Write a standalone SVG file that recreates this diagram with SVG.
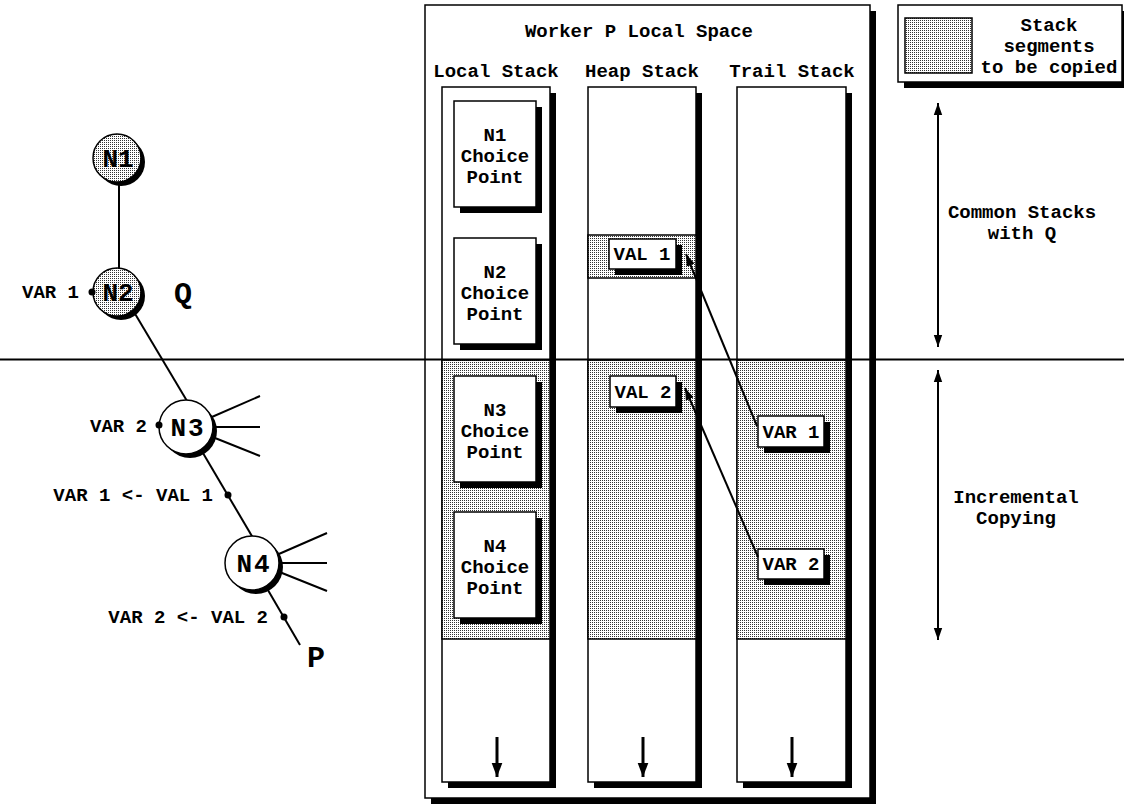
<svg xmlns="http://www.w3.org/2000/svg" width="1124" height="806" viewBox="0 0 1124 806">
<defs>
<pattern id="stip" width="2" height="2" patternUnits="userSpaceOnUse"><rect width="2" height="2" fill="#fff"/><rect width="1" height="1" fill="#333"/></pattern>
<marker id="ah" viewBox="0 0 10 10" refX="10" refY="5" markerWidth="12" markerHeight="12" markerUnits="userSpaceOnUse" orient="auto-start-reverse"><path d="M0,1.5 L10,5 L0,8.5 z" fill="#000"/></marker>
<marker id="ahb" viewBox="0 0 10 10" refX="10" refY="5" markerWidth="14" markerHeight="14" markerUnits="userSpaceOnUse" orient="auto"><path d="M0,1.2 L10,5 L0,8.8 z" fill="#000"/></marker>
<style>
.t{font-family:"Liberation Mono","Courier New",monospace;font-weight:bold;font-size:19px;text-anchor:middle;fill:#000}
.r{text-anchor:end}
.nl{font-size:26px}
.big{font-size:30px}
.box{fill:#fff;stroke:#000;stroke-width:1.5}
.shd{fill:#000}
.stp{fill:url(#stip);stroke:#000;stroke-width:1.5}
.ln{stroke:#000;stroke-width:2;fill:none}
.arr{stroke:#000;stroke-width:2;fill:none;marker-end:url(#ah)}
.arrb{stroke:#000;stroke-width:3;fill:none;marker-end:url(#ahb)}
.arr2{stroke:#000;stroke-width:2;fill:none;marker-end:url(#ah);marker-start:url(#ah)}
</style>
</defs>
<rect width="1124" height="806" fill="#fff"/>

<g id="worker-space">
<rect class="shd" x="431" y="11" width="445" height="793"/>
<rect class="box" x="425" y="5" width="445" height="793"/>
<text class="t" x="639" y="37">Worker P Local Space</text>
<text class="t" x="496" y="77">Local Stack</text>
<text class="t" x="642" y="77">Heap Stack</text>
<text class="t" x="792" y="77">Trail Stack</text>
</g>

<g id="legend">
<rect class="shd" x="904" y="11" width="224" height="77"/>
<rect class="box" x="898" y="5" width="224" height="77"/>
<rect class="stp" x="905" y="18" width="67" height="55"/>
<text class="t" x="1049" y="31">Stack</text>
<text class="t" x="1049" y="52">segments</text>
<text class="t" x="1049" y="73">to be copied</text>
</g>

<g id="local-stack">
<rect class="shd" x="448" y="93" width="108" height="695"/>
<rect class="box" x="442" y="87" width="108" height="695"/>
<rect class="stp" x="442" y="360" width="108" height="279"/>
</g>
<g id="heap-stack">
<rect class="shd" x="594" y="93" width="108" height="695"/>
<rect class="box" x="588" y="87" width="108" height="695"/>
<rect class="stp" x="588" y="235" width="108" height="43"/>
<rect class="stp" x="588" y="360" width="108" height="279"/>
</g>
<g id="trail-stack">
<rect class="shd" x="743" y="93" width="109" height="695"/>
<rect class="box" x="737" y="87" width="109" height="695"/>
<rect class="stp" x="737" y="360" width="109" height="279"/>
</g>

<g id="cp-n1">
<rect class="shd" x="460" y="107" width="82" height="106"/>
<rect class="box" x="454" y="101" width="82" height="106"/>
<text class="t" x="495" y="141">N1</text><text class="t" x="495" y="162">Choice</text><text class="t" x="495" y="183">Point</text>
</g>
<g id="cp-n2">
<rect class="shd" x="460" y="244" width="82" height="106"/>
<rect class="box" x="454" y="238" width="82" height="106"/>
<text class="t" x="495" y="278">N2</text><text class="t" x="495" y="299">Choice</text><text class="t" x="495" y="320">Point</text>
</g>
<g id="cp-n3">
<rect class="shd" x="460" y="382" width="82" height="106"/>
<rect class="box" x="454" y="376" width="82" height="106"/>
<text class="t" x="495" y="416">N3</text><text class="t" x="495" y="437">Choice</text><text class="t" x="495" y="458">Point</text>
</g>
<g id="cp-n4">
<rect class="shd" x="460" y="518" width="82" height="106"/>
<rect class="box" x="454" y="512" width="82" height="106"/>
<text class="t" x="495" y="552">N4</text><text class="t" x="495" y="573">Choice</text><text class="t" x="495" y="594">Point</text>
</g>

<g id="val1">
<rect class="shd" x="615" y="245" width="67" height="30"/>
<rect class="box" x="609" y="239" width="67" height="30"/>
<text class="t" x="642" y="260">VAL 1</text>
</g>
<g id="val2">
<rect class="shd" x="616" y="382" width="66" height="31"/>
<rect class="box" x="610" y="376" width="66" height="31"/>
<text class="t" x="643" y="398">VAL 2</text>
</g>
<g id="var1">
<rect class="shd" x="764" y="422" width="66" height="31"/>
<rect class="box" x="758" y="416" width="66" height="31"/>
<text class="t" x="791" y="438">VAR 1</text>
</g>
<g id="var2">
<rect class="shd" x="764" y="555" width="66" height="30"/>
<rect class="box" x="758" y="549" width="66" height="30"/>
<text class="t" x="791" y="570">VAR 2</text>
</g>

<g id="annotations">
<text class="t" x="1022" y="218">Common Stacks</text>
<text class="t" x="1022" y="239">with Q</text>
<text class="t" x="1016" y="503">Incremental</text>
<text class="t" x="1016" y="524">Copying</text>
</g>

<g id="tree-lines">
<line class="ln" x1="119" y1="180" x2="119" y2="270"/>
<line class="ln" x1="128" y1="302" x2="190" y2="406"/>
<line class="ln" x1="200" y1="448" x2="256" y2="543"/>
<line class="ln" x1="265" y1="585" x2="300" y2="645"/>
<line class="ln" x1="205" y1="420" x2="260" y2="396"/>
<line class="ln" x1="205" y1="427" x2="260" y2="427"/>
<line class="ln" x1="205" y1="434" x2="260" y2="456"/>
<line class="ln" x1="272" y1="557" x2="327" y2="533"/>
<line class="ln" x1="272" y1="563" x2="327" y2="563"/>
<line class="ln" x1="272" y1="569" x2="327" y2="591"/>
</g>

<g id="n1">
<circle class="shd" cx="121" cy="162" r="24"/>
<circle cx="117" cy="158" r="24" fill="url(#stip)" stroke="#000" stroke-width="1.5"/>
<text class="t nl" x="118" y="167">N1</text>
</g>
<g id="n2">
<circle class="shd" cx="121" cy="296" r="24"/>
<circle cx="117" cy="292" r="24" fill="url(#stip)" stroke="#000" stroke-width="1.5"/>
<text class="t nl" x="118" y="301">N2</text>
</g>
<g id="n3">
<circle class="shd" cx="190" cy="431" r="27"/>
<circle class="box" cx="186" cy="427" r="27"/>
<text class="t nl" x="188" y="436" style="letter-spacing:2px">N3</text>
</g>
<g id="n4">
<circle class="shd" cx="256" cy="567" r="27"/>
<circle class="box" cx="252" cy="563" r="27"/>
<text class="t nl" x="254" y="572" style="letter-spacing:2px">N4</text>
</g>

<g id="tree-labels">
<circle cx="92" cy="292" r="3.5" fill="#000"/>
<text class="t r" x="79" y="298">VAR 1</text>
<circle cx="159" cy="425" r="3.5" fill="#000"/>
<text class="t r" x="147" y="432">VAR 2</text>
<circle cx="228" cy="495" r="3.5" fill="#000"/>
<text class="t r" x="213" y="501">VAR 1 &lt;- VAL 1</text>
<circle cx="284" cy="617" r="3.5" fill="#000"/>
<text class="t r" x="268" y="623">VAR 2 &lt;- VAL 2</text>
<text class="t big" x="183" y="303">Q</text>
<text class="t big" x="316" y="667">P</text>
</g>

<g id="connectors">
<line class="ln" x1="0" y1="359.5" x2="1124" y2="359.5"/>
<line class="arr" x1="757" y1="426" x2="686" y2="254"/>
<line class="arr" x1="758" y1="557" x2="685" y2="388"/>
<line class="arrb" x1="497" y1="737" x2="497" y2="777"/>
<line class="arrb" x1="643" y1="737" x2="643" y2="777"/>
<line class="arrb" x1="792" y1="737" x2="792" y2="777"/>
<line class="arr2" x1="938" y1="103" x2="938" y2="347"/>
<line class="arr2" x1="938" y1="370" x2="938" y2="640"/>
</g>
</svg>
